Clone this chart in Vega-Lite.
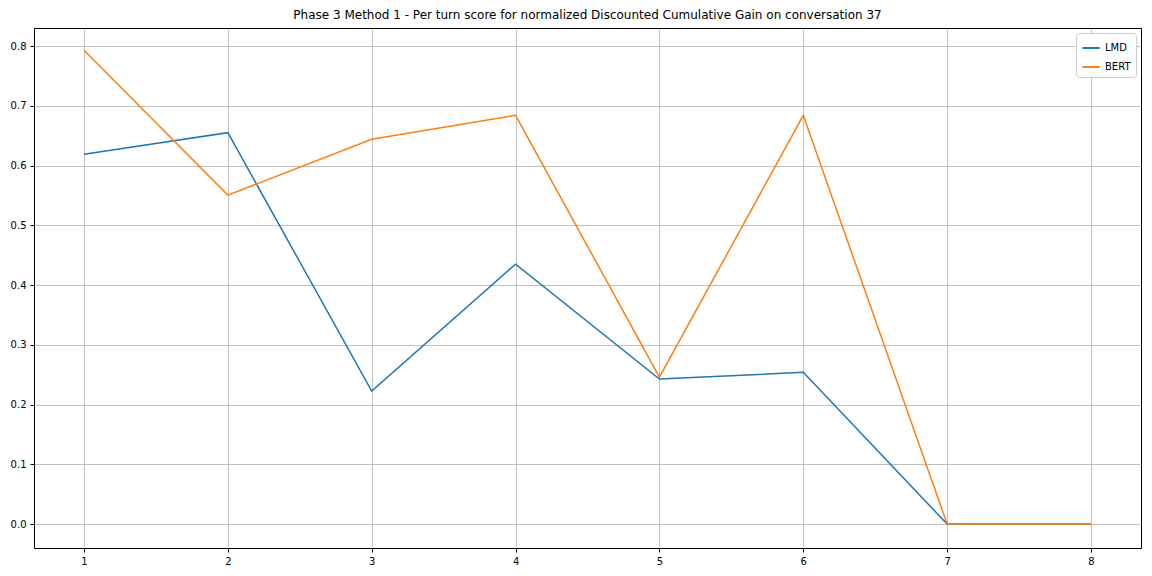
{
  "$schema": "https://vega.github.io/schema/vega-lite/v6.json",
  "autosize": {"type": "none"},
  "padding": {"left": 34, "top": 28, "right": 11, "bottom": 28},
  "width": 1107,
  "height": 520,
  "background": "white",
  "title": {"text": "Phase 3 Method 1 - Per turn score for normalized Discounted Cumulative Gain on conversation 37", "fontSize": 12, "fontWeight": "normal", "font": "DejaVu Sans", "color": "black", "anchor": "middle", "offset": 6},
  "config": {
    "view": {"stroke": "black", "strokeWidth": 1},
    "axis": {"labelFont": "DejaVu Sans", "labelFontSize": 10, "labelColor": "black", "domain": false, "tickColor": "black", "tickSize": 4, "labelPadding": 4, "gridColor": "#b0b0b0", "gridWidth": 0.8, "title": null}
  },
  "data": {"values": [
    {"turn": 1, "model": "LMD", "score": 0.619},
    {"turn": 2, "model": "LMD", "score": 0.655},
    {"turn": 3, "model": "LMD", "score": 0.2226},
    {"turn": 4, "model": "LMD", "score": 0.435},
    {"turn": 5, "model": "LMD", "score": 0.2427},
    {"turn": 6, "model": "LMD", "score": 0.254},
    {"turn": 7, "model": "LMD", "score": 0.0},
    {"turn": 8, "model": "LMD", "score": 0.0},
    {"turn": 1, "model": "BERT", "score": 0.793},
    {"turn": 2, "model": "BERT", "score": 0.5506},
    {"turn": 3, "model": "BERT", "score": 0.644},
    {"turn": 4, "model": "BERT", "score": 0.684},
    {"turn": 5, "model": "BERT", "score": 0.246},
    {"turn": 6, "model": "BERT", "score": 0.684},
    {"turn": 7, "model": "BERT", "score": 0.0},
    {"turn": 8, "model": "BERT", "score": 0.0}
  ]},
  "mark": {"type": "line", "strokeWidth": 1.5},
  "encoding": {
    "x": {"field": "turn", "type": "quantitative", "scale": {"domain": [0.6525, 8.3475], "nice": false, "zero": false}, "axis": {"values": [1,2,3,4,5,6,7,8], "format": "d"}},
    "y": {"field": "score", "type": "quantitative", "scale": {"domain": [-0.04, 0.8302], "nice": false, "zero": false}, "axis": {"values": [0,0.1,0.2,0.3,0.4,0.5,0.6,0.7,0.8], "format": ".1f"}},
    "color": {"field": "model", "type": "nominal", "sort": ["LMD", "BERT"], "scale": {"domain": ["LMD", "BERT"], "range": ["#1f77b4", "#ff7f0e"]},
      "legend": {"title": null, "orient": "top-right", "offset": 5, "symbolType": "stroke", "symbolStrokeWidth": 2, "symbolSize": 300, "labelFont": "DejaVu Sans", "labelFontSize": 10, "labelColor": "black", "strokeColor": "#cccccc", "fillColor": "white", "padding": 5, "cornerRadius": 3, "rowPadding": 4}}
  }
}
